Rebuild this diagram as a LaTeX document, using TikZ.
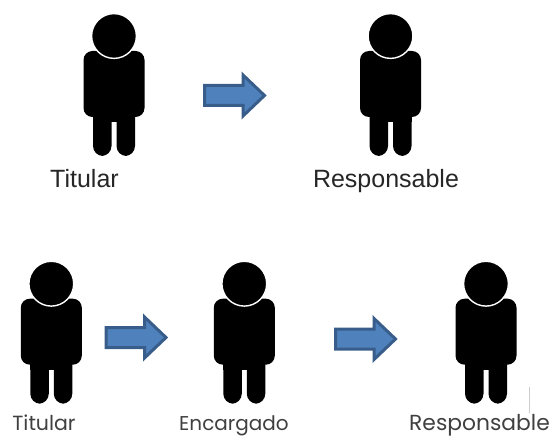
\documentclass[tikz,border=0pt]{standalone}
\usepackage{fontspec}
\setmainfont{Liberation Sans}
\newfontfamily\geofont{Poppins}
\tikzset{
  x=1pt,y=-1pt,
  flowarrow/.style={fill=arrowfill,draw=arrowline,line width=3pt,miter limit=10},
  toplabel/.style={inner sep=0pt,anchor=base,text=black!85,font=\fontsize{25}{28}\selectfont},
  lowlabel/.style={inner sep=0pt,anchor=base,text=black!75,font=\geofont\fontsize{20.5}{24}\selectfont},
  person/.pic={
    \fill[black,rounded corners=9pt] (-30.5,15) rectangle (30.5,81);
    \fill[black,rounded corners=10pt] (-21,70) -- (-21,120) -- (-2.5,120) -- (-2.5,70) -- cycle;
    \fill[black,rounded corners=10pt] (2.5,70) -- (2.5,120) -- (21,120) -- (21,70) -- cycle;
    \fill[black] (-21,70) rectangle (21,86);
    \fill[black,draw=white,line width=1.4pt] (0,0) circle (22.4);
  },
  arrowpic/.pic={
    \draw[flowarrow] (1.5,-10) -- (40,-10) -- (40,-20.5) -- (61.5,0) -- (40,20.5) -- (40,10) -- (1.5,10) -- cycle;
  }
}
\definecolor{arrowfill}{HTML}{4F81BD}
\definecolor{arrowline}{HTML}{385D8A}
\begin{document}
\begin{tikzpicture}
\useasboundingbox (0,0) rectangle (551,438);
\pic at (114,36) {person};
\pic at (390.5,36) {person};
\pic at (51.3,283.7) {person};
\pic at (244.3,283.7) {person};
\pic at (486,283.7) {person};
\pic at (203,95.5) {arrowpic};
\pic at (104.5,337.5) {arrowpic};
\pic at (334,339) {arrowpic};
\draw[black!20,line width=0.7pt] (529,387) -- (529,413);
\node[toplabel] (t1) at (84.5,188) {Titular};
\node[toplabel] (t2) at (386,188) {Responsable};
\node[lowlabel] (b1) at (44,430) {Titular};
\node[lowlabel,font=\geofont\fontsize{20}{24}\selectfont] (b2) at (234,430) {Encargado};
\node[lowlabel,font=\geofont\fontsize{21.8}{24}\selectfont] (b3) at (479.5,430) {Responsable};
\end{tikzpicture}
\end{document}
